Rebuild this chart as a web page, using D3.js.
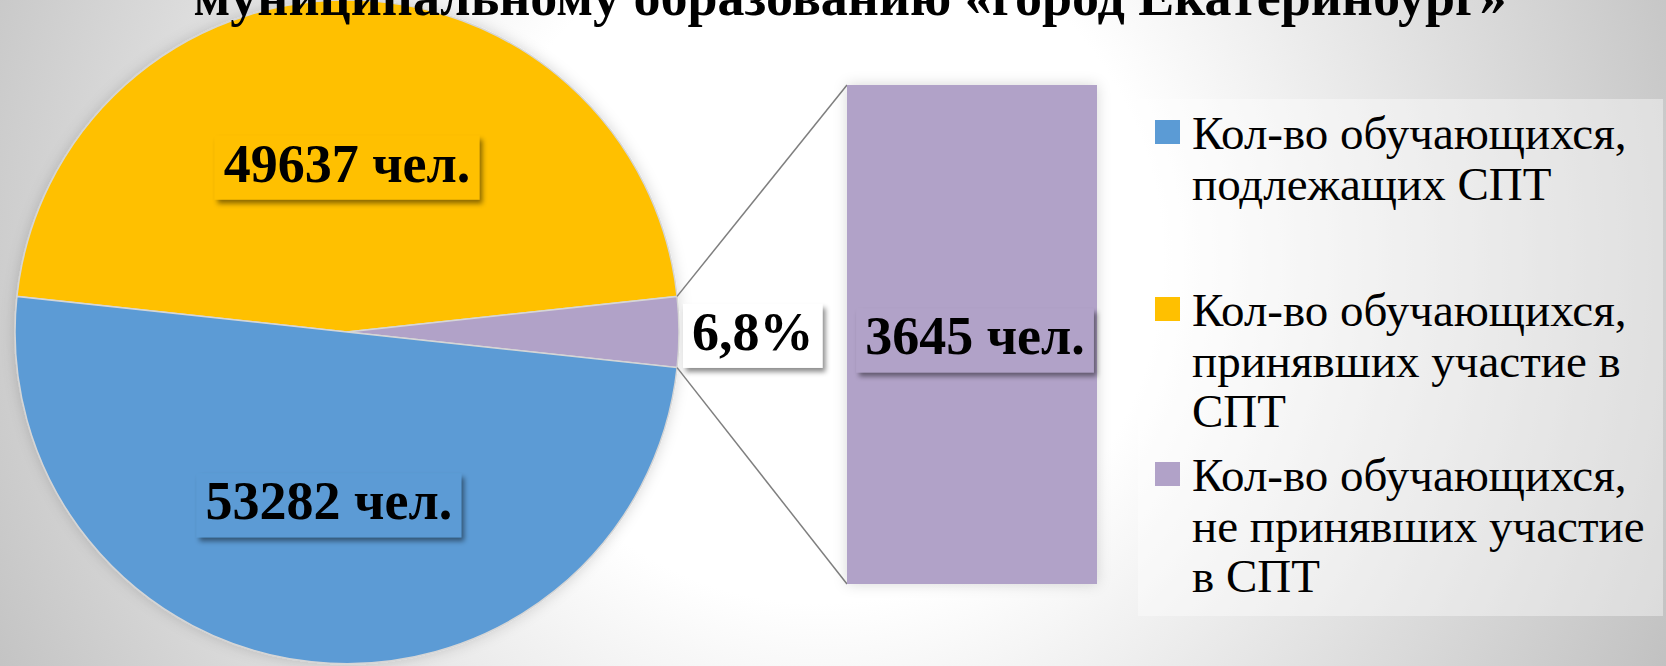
<!DOCTYPE html>
<html>
<head>
<meta charset="utf-8">
<script src="https://cdn.jsdelivr.net/npm/d3@7"></script>
<style>
  html, body { margin: 0; padding: 0; overflow: hidden; }
  svg { display: block; }
</style>
</head>
<body>
<div id="chart"></div>
<script>
// данные диаграммы
const categories = [
  "Кол-во обучающихся, подлежащих СПТ",
  "Кол-во обучающихся, принявших участие в СПТ",
  "Кол-во обучающихся, не принявших участие в СПТ"
];
const values = [53282, 49637, 3645];
const colors = ["#5b9bd5", "#ffc000", "#b1a2c8"];
const legendLines = [
  ["Кол-во обучающихся,", "подлежащих СПТ"],
  ["Кол-во обучающихся,", "принявших участие в", "СПТ"],
  ["Кол-во обучающихся,", "не принявших участие", "в СПТ"]
];
const titleText = "муниципальному образованию «город Екатеринбург»";
const unit = " чел.";

const W = 1666, H = 666;
const font = "'Liberation Serif', 'Times New Roman', serif";

const svg = d3.select("#chart").append("svg")
    .attr("width", W)
    .attr("height", H);

const defs = svg.append("defs");

// фон - радиальный градиент
const bg = defs.append("radialGradient")
    .attr("id", "bg")
    .attr("gradientUnits", "userSpaceOnUse")
    .attr("cx", 820).attr("cy", 260).attr("r", 980);
bg.append("stop").attr("offset", "0").attr("stop-color", "#ffffff");
bg.append("stop").attr("offset", "0.35").attr("stop-color", "#ffffff");
bg.append("stop").attr("offset", "1").attr("stop-color", "#bdbdbd");

// мягкая тень вокруг пирога и столбца
const glow = defs.append("filter").attr("id", "glow")
    .attr("x", "-10%").attr("y", "-10%").attr("width", "120%").attr("height", "120%");
glow.append("feDropShadow")
    .attr("dx", 0).attr("dy", 0).attr("stdDeviation", 7)
    .attr("flood-color", "#000").attr("flood-opacity", 0.16);

// тень подписей
const shadow = defs.append("filter").attr("id", "shadow")
    .attr("x", "-20%").attr("y", "-30%").attr("width", "140%").attr("height", "160%");
shadow.append("feDropShadow")
    .attr("dx", 3).attr("dy", 4).attr("stdDeviation", 2.5)
    .attr("flood-color", "#000").attr("flood-opacity", 0.45);

svg.append("rect").attr("width", W).attr("height", H).attr("fill", "url(#bg)");

// ---- пирог ----
const cx = 347, cy = 332, R = 332;
const total = d3.sum(values);
// порядок: принявшие, не принявшие, подлежащие - "прочее" по центру справа
const order = [1, 2, 0];
const startAngle = Math.PI / 2 - (values[1] + values[2] / 2) / total * 2 * Math.PI;

const pie = d3.pie()
    .sort(null)
    .value(i => values[i])
    .startAngle(startAngle)
    .endAngle(startAngle + 2 * Math.PI);
const arcs = pie(order);

const arc = d3.arc().innerRadius(0).outerRadius(R);
const labelArc = d3.arc().innerRadius(R * 0.51).outerRadius(R * 0.51);

const pieG = svg.append("g").attr("transform", `translate(${cx},${cy})`);

pieG.append("g").attr("filter", "url(#glow)")
  .selectAll("path")
  .data(arcs)
  .join("path")
    .attr("d", arc)
    .attr("fill", d => colors[d.data])
    .attr("stroke", "#d6d6d6")
    .attr("stroke-width", 1.5);

// ---- столбец вторичной диаграммы ----
const barX = d3.scaleBand().domain([categories[2]]).range([847, 1097]);
const barY = d3.scaleLinear().domain([0, values[2]]).range([584, 85]);

const otherArc = arcs.find(d => d.data === 2);
const edge = a => [cx + R * Math.sin(a), cy - R * Math.cos(a)];
const pTop = edge(otherArc.startAngle);
const pBot = edge(otherArc.endAngle);

svg.append("line")
    .attr("x1", pTop[0]).attr("y1", pTop[1])
    .attr("x2", barX(categories[2])).attr("y2", barY(values[2]))
    .attr("stroke", "#7f7f7f").attr("stroke-width", 1.5);
svg.append("line")
    .attr("x1", pBot[0]).attr("y1", pBot[1])
    .attr("x2", barX(categories[2])).attr("y2", barY(0))
    .attr("stroke", "#7f7f7f").attr("stroke-width", 1.5);

svg.append("rect")
    .attr("x", barX(categories[2]))
    .attr("y", barY(values[2]))
    .attr("width", barX.bandwidth())
    .attr("height", barY(0) - barY(values[2]))
    .attr("fill", colors[2])
    .attr("filter", "url(#glow)");

// ---- подписи данных ----
function boxLabel(x, y, text, fill, anchor) {
  const g = svg.append("g");
  const r = g.append("rect").attr("fill", fill).attr("filter", "url(#shadow)");
  const t = g.append("text")
      .attr("x", x).attr("y", y)
      .attr("dy", "0.35em")
      .attr("text-anchor", anchor || "middle")
      .style("font-family", font)
      .style("font-weight", "bold")
      .style("font-size", "54px")
      .attr("fill", "#000")
      .text(text);
  const b = t.node().getBBox();
  r.attr("x", b.x - 9).attr("y", b.y + 2)
   .attr("width", b.width + 18).attr("height", b.height + 4);
}

arcs.filter(d => d.data !== 2).forEach(d => {
  const c = labelArc.centroid(d);
  boxLabel(cx + c[0], cy + c[1], values[d.data] + unit, colors[d.data]);
});

const pct = d3.format(".1%")(values[2] / values[0]).replace(".", ",");
boxLabel(cx + R + 13, (pTop[1] + pBot[1]) / 2 - 1, pct, "#ffffff", "start");

boxLabel(barX(categories[2]) + barX.bandwidth() / 2 + 3, (barY(0) + barY(values[2])) / 2 + 1,
         values[2] + unit, colors[2]);

// ---- легенда ----
svg.append("rect")
    .attr("x", 1138).attr("y", 99)
    .attr("width", 525).attr("height", 517)
    .attr("fill", "#ffffff").attr("fill-opacity", 0.4);

const legendTop = [149, 326, 491];
const lineH = 50.5;
const leg = svg.append("g")
  .selectAll("g")
  .data(categories)
  .join("g");

leg.append("rect")
    .attr("x", 1155)
    .attr("y", (d, i) => legendTop[i] - 29)
    .attr("width", 25).attr("height", 24)
    .attr("fill", (d, i) => colors[i]);

leg.append("text")
    .style("font-family", font)
    .style("font-size", "47px")
    .attr("fill", "#000")
  .selectAll("tspan")
  .data((d, i) => legendLines[i].map((s, k) => ({ s, y: legendTop[i] + k * lineH })))
  .join("tspan")
    .attr("x", 1192)
    .attr("y", d => d.y)
    .text(d => d.s);

// ---- заголовок (верхняя часть обрезана краем, как в оригинале) ----
svg.append("text")
    .attr("x", 850).attr("y", 15)
    .attr("text-anchor", "middle")
    .style("font-family", font)
    .style("font-weight", "bold")
    .style("font-size", "54px")
    .attr("fill", "#000")
    .text(titleText);
</script>
</body>
</html>
